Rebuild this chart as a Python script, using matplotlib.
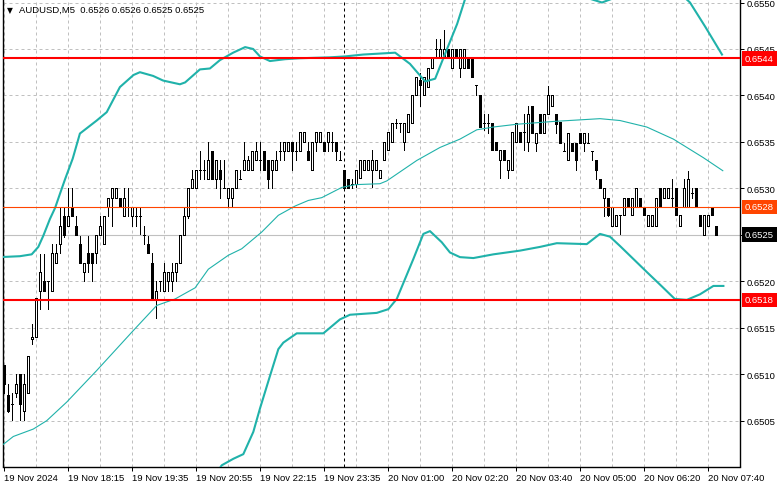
import numpy as np
import matplotlib
matplotlib.use("Agg")
import matplotlib.pyplot as plt

plt.rcParams["font.family"] = ["Liberation Sans", "DejaVu Sans"]

# AUDUSD M5 candles, prices in points (0.00001) above 0.6500
BASE = 0.65
opens = [110, 78, 68, 80, 100, 60, 80, 138, 140, 190,
         200, 200, 190, 220, 240, 270, 260, 280, 260, 240,
         210, 230, 230, 230, 250, 240, 280, 290, 290, 290,
         270, 280, 270, 270, 270, 250, 240, 220, 180, 200,
         190, 200, 200, 210, 220, 250, 270, 300, 300, 320,
         320, 310, 340, 310, 320, 300, 290, 290, 300, 310,
         320, 320, 320, 330, 330, 340, 330, 320, 320, 340,
         340, 340, 350, 340, 340, 350, 340, 320, 350, 350,
         350, 350, 350, 350, 330, 320, 310, 305, 305, 311,
         320, 320, 320, 320, 311, 330, 341, 350, 370, 370,
         350, 361, 370, 400, 417, 400, 409, 430, 450, 441,
         441, 450, 430, 450, 430, 430, 441, 441, 411, 400,
         370, 370, 370, 350, 330, 341, 320, 320, 350, 361,
         361, 350, 389, 349, 380, 360, 380, 389, 380, 371,
         340, 330, 349, 349, 360, 349, 349, 340, 330, 310,
         290, 290, 260, 260, 271, 271, 290, 271, 280, 290,
         280, 260, 260, 260, 300, 290, 290, 290, 300, 260,
         280, 280, 295, 300, 271, 250, 260, 280, 260]
highs = [110, 89, 80, 100, 100, 100, 120, 154, 182, 229,
         229, 200, 240, 240, 280, 280, 300, 300, 270, 250,
         220, 250, 230, 250, 270, 270, 290, 300, 300, 290,
         300, 300, 280, 280, 280, 260, 250, 230, 200, 200,
         220, 210, 220, 220, 250, 280, 300, 320, 320, 340,
         330, 350, 340, 330, 330, 330, 300, 300, 320, 320,
         350, 335, 340, 350, 350, 340, 330, 330, 340, 350,
         350, 350, 350, 350, 361, 361, 350, 350, 361, 361,
         350, 361, 361, 350, 340, 320, 310, 310, 320, 330,
         330, 330, 341, 330, 320, 350, 361, 370, 375, 370,
         370, 380, 400, 420, 424, 420, 430, 441, 461, 461,
         470, 450, 450, 450, 450, 450, 441, 441, 411, 400,
         380, 380, 370, 350, 341, 341, 330, 361, 370, 361,
         380, 389, 389, 360, 380, 380, 410, 400, 380, 371,
         349, 360, 349, 349, 360, 360, 360, 340, 330, 310,
         300, 290, 280, 271, 271, 290, 290, 290, 300, 290,
         280, 271, 271, 290, 300, 300, 300, 310, 300, 271,
         310, 319, 300, 300, 271, 271, 271, 280, 260]
lows = [80, 59, 51, 75, 51, 51, 80, 132, 140, 170,
        190, 170, 190, 220, 230, 248, 260, 270, 250, 220,
        200, 210, 200, 220, 250, 240, 270, 260, 290, 280,
        270, 270, 260, 260, 250, 240, 230, 180, 161, 190,
        190, 190, 190, 200, 220, 250, 268, 300, 300, 310,
        310, 310, 310, 300, 290, 300, 280, 280, 300, 310,
        320, 320, 320, 330, 320, 320, 300, 300, 320, 330,
        330, 340, 320, 330, 340, 350, 330, 320, 340, 350,
        340, 340, 340, 330, 330, 300, 300, 300, 302, 311,
        320, 320, 302, 320, 311, 330, 341, 350, 365, 361,
        341, 361, 370, 400, 389, 400, 409, 430, 441, 441,
        441, 441, 430, 441, 420, 430, 430, 420, 400, 366,
        363, 360, 341, 341, 311, 330, 311, 320, 350, 350,
        341, 340, 360, 340, 360, 360, 380, 389, 360, 349,
        340, 330, 340, 320, 349, 340, 349, 330, 310, 300,
        270, 270, 260, 260, 250, 271, 280, 271, 280, 280,
        271, 260, 260, 260, 280, 290, 290, 280, 271, 260,
        280, 280, 290, 280, 260, 250, 260, 271, 250]
closes = [90, 60, 68, 89, 68, 89, 120, 140, 182, 210,
          190, 200, 230, 230, 260, 250, 270, 270, 250, 220,
          220, 220, 220, 250, 260, 270, 290, 300, 300, 280,
          290, 280, 280, 270, 270, 250, 230, 181, 190, 200,
          210, 210, 210, 220, 250, 270, 300, 310, 320, 320,
          320, 330, 310, 330, 310, 300, 300, 300, 320, 310,
          330, 330, 340, 340, 330, 320, 310, 330, 330, 340,
          350, 350, 340, 340, 361, 361, 330, 350, 361, 361,
          340, 361, 350, 340, 330, 300, 300, 305, 320, 330,
          330, 330, 330, 330, 320, 350, 361, 370, 370, 370,
          370, 380, 400, 420, 411, 420, 430, 441, 450, 450,
          450, 441, 450, 441, 450, 450, 430, 420, 411, 366,
          370, 370, 341, 341, 341, 330, 330, 361, 370, 350,
          361, 380, 360, 360, 360, 380, 400, 400, 369, 349,
          340, 360, 340, 330, 349, 360, 349, 340, 320, 300,
          300, 271, 280, 271, 271, 290, 280, 290, 300, 280,
          271, 271, 271, 290, 280, 300, 300, 290, 271, 271,
          300, 310, 295, 280, 260, 271, 271, 271, 250]

# Bollinger bands (bar index, points)
upper_bar = [-1, 4.1, 7.05, 8.7, 9.95, 11.6, 12.9, 14.1, 15.4, 17.3, 19.1, 23.3, 25.8,
             29.1, 32.5, 34.1, 37.4, 39.9, 44.1, 45.4, 49.1, 51.6, 54.1, 57.4, 60.4,
             62.4, 64.1, 66.6, 70.4, 74.1, 81.6, 85.4, 89.9, 97.9, 101.6, 105.4, 107.9,
             110.4, 113.4, 115.4, 119.1, 129.1, 139.1, 146.6, 149.6, 152.1, 159.1,
             166.6, 171.6, 175.4, 179.6]
upper_val = [226, 227, 229, 237, 249, 267, 279, 294, 310, 332, 359, 373, 382,
             409, 422, 425, 421, 416, 412, 414, 428, 429, 438, 446, 452,
             450, 442, 437, 439, 440, 441, 442, 444, 446, 434, 415, 418,
             445, 477, 504, 536, 558, 536, 504, 500, 504, 525,
             520, 500, 474, 444]
middle_bar = [-0.5, 2.45, 7.45, 10.8, 15.8, 23.3, 32.45, 38.3, 42.9, 47.9, 51.2, 56.2,
              59.55, 64.55, 68.7, 72.9, 76.2, 79.55, 84.55, 87.9, 94.1, 95.8, 103.3,
              109.1, 114.1, 118.3, 122.45, 128.3, 137.45, 149.1, 154.1, 160.8, 167.45,
              174.95, 179.8]
middle_val = [23, 33, 41, 50, 70, 104, 147, 174, 181, 193, 213, 228,
              235, 253, 271, 281, 287, 290, 301, 304, 305, 308, 330,
              344, 353, 363, 366, 369, 372, 375, 373, 366, 353,
              333, 319]
lower_bar = [50.4, 54.55, 57.45, 59.95, 62.45, 64.1, 66.6, 68.7, 69.95, 73.3, 79.95,
             84.1, 86.6, 93.3, 96.2, 98.3, 102.45, 104.95, 106.6, 109.55, 111.6, 114.1,
             117.45, 122.45, 129.1, 134.1, 138.3, 145.8, 149.1, 151.6, 154.1, 160.8,
             164.45, 167.8, 170.8, 174.1, 177.45, 179.95]
lower_val = [-24, 2, 9, 14, 38, 63, 98, 127, 134, 144, 144,
             159, 164, 166, 170, 181, 224, 251, 254, 242, 231, 226,
             225, 229, 233, 237, 241, 240, 251, 248, 238, 210,
             195, 181, 180, 186, 195, 195]

# horizontal levels
levels = [0.6544, 0.6528, 0.6518]
level_colors = ["#FF0000", "#FF4500", "#FF0000"]
level_widths = [1.5, 0.8, 1.5]
bid = 0.6525
day_start = 85

time_labels = ["19 Nov 2024", "19 Nov 18:15", "19 Nov 19:35", "19 Nov 20:55",
               "19 Nov 22:15", "19 Nov 23:35", "20 Nov 01:00", "20 Nov 02:20",
               "20 Nov 03:40", "20 Nov 05:00", "20 Nov 06:20", "20 Nov 07:40"]
price_ticks = [0.6505, 0.6510, 0.6515, 0.6520, 0.6525, 0.6530, 0.6535, 0.6540, 0.6545, 0.6550]

o = BASE + np.array(opens) * 1e-5
h = BASE + np.array(highs) * 1e-5
l = BASE + np.array(lows) * 1e-5
c = BASE + np.array(closes) * 1e-5
idx = np.arange(len(o))
bull = c >= o

fig = plt.figure(figsize=(7.81, 4.89), dpi=100)
ax = fig.add_axes([2.5 / 781, 21.5 / 489, 737.5 / 781, 467.5 / 489])
ax.set_xlim(-0.25, 184.1)
ax.set_ylim(0.650007, 0.6550377)

# grid
ax.set_axisbelow(True)
ax.set_xticks(range(0, 177, 16))
ax.set_xticklabels(time_labels, ha="left")
ax.set_xticks(range(8, 185, 16), minor=True)
ax.yaxis.tick_right()
ax.set_yticks(price_ticks)
ax.set_yticklabels([f"{v:.4f}" for v in price_ticks])
ax.grid(True, which="both", color="#C0C0C0", linestyle=(0, (3, 3)), linewidth=0.72)
ax.tick_params(axis="x", which="minor", length=0)
ax.tick_params(axis="both", which="major", length=3, width=0.72, labelsize=6.8, pad=1.5)
ax.spines["top"].set_visible(False)
for s in ["left", "right", "bottom"]:
    ax.spines[s].set_linewidth(1.0)

# day separator
ax.axvline(day_start, color="black", linestyle=(0, (3, 3)), linewidth=0.72, zorder=1.6)

# candles
ax.vlines(idx, l, h, color="black", linewidth=0.72, antialiased=False, zorder=2)
ax.bar(idx, c - o, bottom=o, width=0.5,
       color=np.where(bull, "white", "black"), edgecolor="black",
       linewidth=0.72, antialiased=False, zorder=3)

# bollinger bands
teal = "#20B2AA"
ax.plot(upper_bar, BASE + np.array(upper_val) * 1e-5, color=teal, linewidth=1.5,
        solid_joinstyle="round", zorder=4)
ax.plot(middle_bar, BASE + np.array(middle_val) * 1e-5, color=teal, linewidth=0.8,
        solid_joinstyle="round", zorder=4)
ax.plot(lower_bar, BASE + np.array(lower_val) * 1e-5, color=teal, linewidth=1.5,
        solid_joinstyle="round", zorder=4)

# levels and bid line
ax.axhline(bid, color="#C0C0C0", linewidth=0.8, zorder=2.5)
for lv, col, lw in zip(levels, level_colors, level_widths):
    ax.axhline(lv, color=col, linewidth=lw, zorder=5)

# price labels on the right
tags = [(levels[0], level_colors[0]), (levels[1], level_colors[1]),
        (bid, "black"), (levels[2], level_colors[2])]
for val, col in tags:
    ax.text(1.0068, val, f"{val:.4f}", transform=ax.get_yaxis_transform(),
            ha="left", va="center", color="white", fontsize=6.8, clip_on=False,
            bbox=dict(boxstyle="square,pad=0.3", fc=col, ec="none"), zorder=10)

# symbol header
fig.text(19 / 781, 1 - 10.5 / 489, "AUDUSD,M5  0.6526 0.6526 0.6525 0.6525",
         fontsize=6.8, ha="left", va="center")
fig.text(9.5 / 781, 1 - 11 / 489, "\u25bc", fontsize=5.5, ha="center", va="center",
         family="DejaVu Sans")

fig.savefig("out.png", dpi=100)
